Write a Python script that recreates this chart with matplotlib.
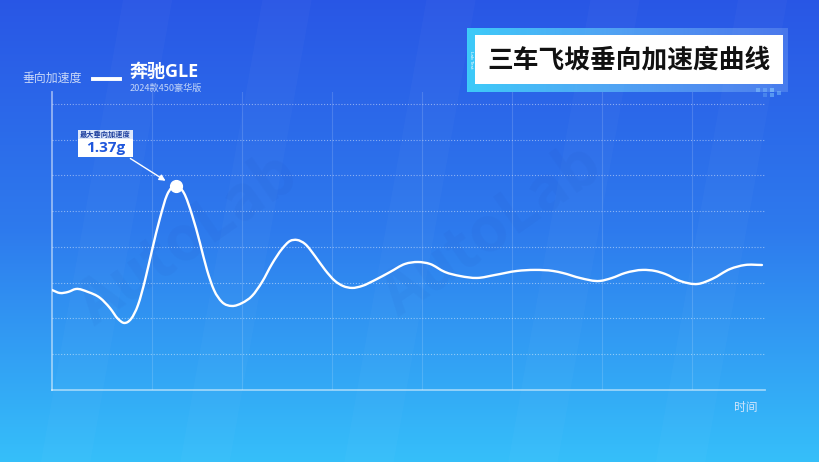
import numpy as np
import matplotlib
matplotlib.use("Agg")
from matplotlib import pyplot as plt
from matplotlib.path import Path
from matplotlib.patches import PathPatch, Rectangle

plt.rcParams['font.family'] = ['Noto Sans CJK SC', 'DejaVu Sans']

W, H = 820, 462

# time (s) and vertical acceleration (g)
time_s = [0.000, 0.044, 0.089, 0.133, 0.200, 0.267, 0.322, 0.367, 0.400, 0.439,
          0.478, 0.517, 0.556, 0.600, 0.639, 0.689, 0.733, 0.778, 0.822, 0.861,
          0.900, 0.944, 1.000, 1.056, 1.111, 1.167, 1.222, 1.278, 1.322, 1.361,
          1.406, 1.461, 1.517, 1.572, 1.617, 1.667, 1.722, 1.794, 1.878, 1.961,
          2.033, 2.100, 2.183, 2.267, 2.361, 2.461, 2.583, 2.683, 2.783, 2.839,
          2.933, 3.044, 3.111, 3.183, 3.283, 3.350, 3.406, 3.489, 3.589, 3.667,
          3.767, 3.850, 3.944]
accel_g = [0.671, 0.651, 0.658, 0.678, 0.658, 0.618, 0.550, 0.477, 0.450, 0.477,
           0.571, 0.738, 0.940, 1.154, 1.309, 1.369, 1.322, 1.175, 0.987, 0.806,
           0.671, 0.591, 0.564, 0.584, 0.631, 0.725, 0.846, 0.947, 1.000, 1.007,
           0.980, 0.899, 0.806, 0.732, 0.698, 0.685, 0.698, 0.738, 0.792, 0.846,
           0.859, 0.846, 0.792, 0.765, 0.752, 0.772, 0.799, 0.806, 0.799, 0.785,
           0.752, 0.732, 0.752, 0.785, 0.806, 0.799, 0.779, 0.732, 0.712, 0.745,
           0.812, 0.839, 0.839]
peak_value = "1.37g"
v_grid = [0.556, 1.056, 1.556, 2.056, 2.556, 3.056, 3.556]
h_grid = [0.24 * k for k in range(1, 9)]

car_name = "奔驰GLE"
car_trim = "2024款450豪华版"
title = "三车飞坡垂向加速度曲线"


def fx(x):
    return x / W


def fy(y):
    return 1 - y / H


fig = plt.figure(figsize=(8.2, 4.62), dpi=100)

# background gradient
bg = fig.add_axes([0, 0, 1, 1], zorder=-10)
bg.axis('off')
grad = np.linspace(0, 1, 256).reshape(-1, 1)
top = np.array([0.16, 0.34, 0.90])
mid = np.array([0.18, 0.48, 0.93])
bot = np.array([0.21, 0.75, 0.98])
img = np.where(grad < 0.5, top + (mid - top) * (grad / 0.5),
               mid + (bot - mid) * ((grad - 0.5) / 0.5))
img = img.reshape(256, 1, 3)
bg.imshow(img, aspect='auto', extent=[0, 1, 0, 1])
bg.set_xlim(0, 1)
bg.set_ylim(0, 1)
# faint slanted stripes
for x0 in [0.05, 0.22, 0.42, 0.62, 0.80]:
    bg.add_patch(plt.Polygon([[x0, 0.0], [x0 + 0.06, 0.0], [x0 + 0.16, 1.0], [x0 + 0.10, 1.0]],
                             closed=True, color='white', alpha=0.025, lw=0))
# watermark
bg.text(0.23, 0.48, "AutoLab", fontsize=44, fontweight='bold', color='#1a3aa0', alpha=0.05,
        rotation=35, ha='center', va='center')
bg.text(0.60, 0.50, "AutoLab", fontsize=44, fontweight='bold', color='#1a3aa0', alpha=0.05,
        rotation=35, ha='center', va='center')

# main chart
ax = fig.add_axes([fx(52), fy(390), fx(765) - fx(52), fy(92) - fy(390)])
ax.patch.set_alpha(0)
ax.set_xlim(0, 3.961)
ax.set_ylim(0, 2.0)
ax.set_xticks([])
ax.set_yticks([])
for s in ['top', 'right']:
    ax.spines[s].set_visible(False)
for s in ['left', 'bottom']:
    ax.spines[s].set_color((1, 1, 1, 0.5))
    ax.spines[s].set_linewidth(1.3)
for g in h_grid:
    ax.axhline(g, color='white', alpha=0.45, lw=0.8, ls=(0, (1, 1.6)), zorder=1)
for g in v_grid:
    ax.axvline(g, color='white', alpha=0.15, lw=0.8, zorder=1)

# smooth curve through the read points (cubic Hermite as Bezier, y as function of x)
xs = np.array(time_s)
ys = np.array(accel_g)
n = len(xs)
slope = np.zeros(n)
for i in range(n):
    if i == 0:
        slope[i] = (ys[1] - ys[0]) / (xs[1] - xs[0])
    elif i == n - 1:
        slope[i] = (ys[-1] - ys[-2]) / (xs[-1] - xs[-2])
    else:
        d0 = (ys[i] - ys[i - 1]) / (xs[i] - xs[i - 1])
        d1 = (ys[i + 1] - ys[i]) / (xs[i + 1] - xs[i])
        h0 = xs[i] - xs[i - 1]
        h1 = xs[i + 1] - xs[i]
        slope[i] = (d0 * h1 + d1 * h0) / (h0 + h1)
verts = [(xs[0], ys[0])]
codes = [Path.MOVETO]
for i in range(n - 1):
    dx = xs[i + 1] - xs[i]
    verts += [(xs[i] + dx / 3, ys[i] + slope[i] * dx / 3),
              (xs[i + 1] - dx / 3, ys[i + 1] - slope[i + 1] * dx / 3),
              (xs[i + 1], ys[i + 1])]
    codes += [Path.CURVE4] * 3
ax.add_patch(PathPatch(Path(verts, codes), fill=False, edgecolor='white', lw=1.7, zorder=3,
                       capstyle='round'))

pk = int(np.argmax(accel_g))
ax.plot(time_s[pk], accel_g[pk], 'o', color='white', ms=8.5, zorder=4)
ax.annotate("", xy=(time_s[pk] - 0.045, accel_g[pk] + 0.025), xycoords='data',
            xytext=(fx(128), fy(157)), textcoords='figure fraction',
            arrowprops=dict(arrowstyle='-|>', color='white', lw=1, mutation_scale=9))

# peak label box
fig.add_artist(Rectangle((fx(78), fy(139)), fx(55), fy(130) - fy(139),
                         transform=fig.transFigure, color='#dce7fb', lw=0))
fig.add_artist(Rectangle((fx(78), fy(157)), fx(55), fy(139) - fy(157),
                         transform=fig.transFigure, color='white', lw=0))
fig.text(fx(105.5), fy(134.5), "最大垂向加速度", fontsize=5.2, fontweight='bold',
         color='#1d3f9e', ha='center', va='center')
fig.text(fx(105.5), fy(148), peak_value, fontsize=11, fontweight='bold',
         color='#1e56dc', ha='center', va='center', family=['Open Sans', 'DejaVu Sans'])

# legend
fig.text(fx(22), fy(78), "垂向加速度", fontsize=8.6, color='#c9d8f8', ha='left', va='center')
fig.add_artist(plt.Line2D([fx(93), fx(120)], [fy(79), fy(79)], color='white', lw=2.8,
                          transform=fig.transFigure))
fig.text(fx(129), fy(72), car_name, fontsize=13, fontweight='bold', color='white',
         ha='left', va='center', family=['Open Sans', 'Noto Sans CJK SC'])
fig.text(fx(130), fy(88), car_trim, fontsize=6.6, color='#c3d6f8', ha='left', va='center')

# x axis label
fig.text(fx(746), fy(407), "时间", fontsize=8.5, color='#d2e6fc', ha='center', va='center')

# title box
tb = fig.add_axes([fx(467), fy(92), fx(788) - fx(467), fy(28) - fy(92)], zorder=5)
tb.axis('off')
hg = np.linspace(0, 1, 256)
tb_img = np.zeros((1, 256, 4))
tb_img[0, :, 0] = 0.24 + (0.55 - 0.24) * hg
tb_img[0, :, 1] = 0.80 + (0.72 - 0.80) * hg
tb_img[0, :, 2] = 0.98
tb_img[0, :, 3] = 1.0 - 0.7 * hg
tb.imshow(tb_img, aspect='auto', extent=[0, 1, 0, 1])
tb.set_xlim(0, 1)
tb.set_ylim(0, 1)
fig.add_artist(Rectangle((fx(475), fy(84)), fx(783) - fx(475), fy(35) - fy(84),
                         transform=fig.transFigure, color='white', lw=0, zorder=6))
fig.text(fx(629), fy(59.5), title, fontsize=18.5, fontweight='heavy', color='#111111',
         ha='center', va='center', zorder=7)
fig.text(fx(471), fy(60), "Lab Test", fontsize=3.2, color='white', rotation=270,
         ha='center', va='center', zorder=7, family=['DejaVu Sans'])
for (sx, sy, a) in [(756, 88, 0.5), (763, 88, 0.35), (770, 88, 0.6), (777, 91, 0.4),
                    (763, 93, 0.25), (770, 93, 0.45)]:
    fig.add_artist(Rectangle((fx(sx), fy(sy + 4)), fx(4), fy(sy) - fy(sy + 4),
                             transform=fig.transFigure, color='#8fd6ff', alpha=a, lw=0))

fig.savefig("out.png", dpi=100)
